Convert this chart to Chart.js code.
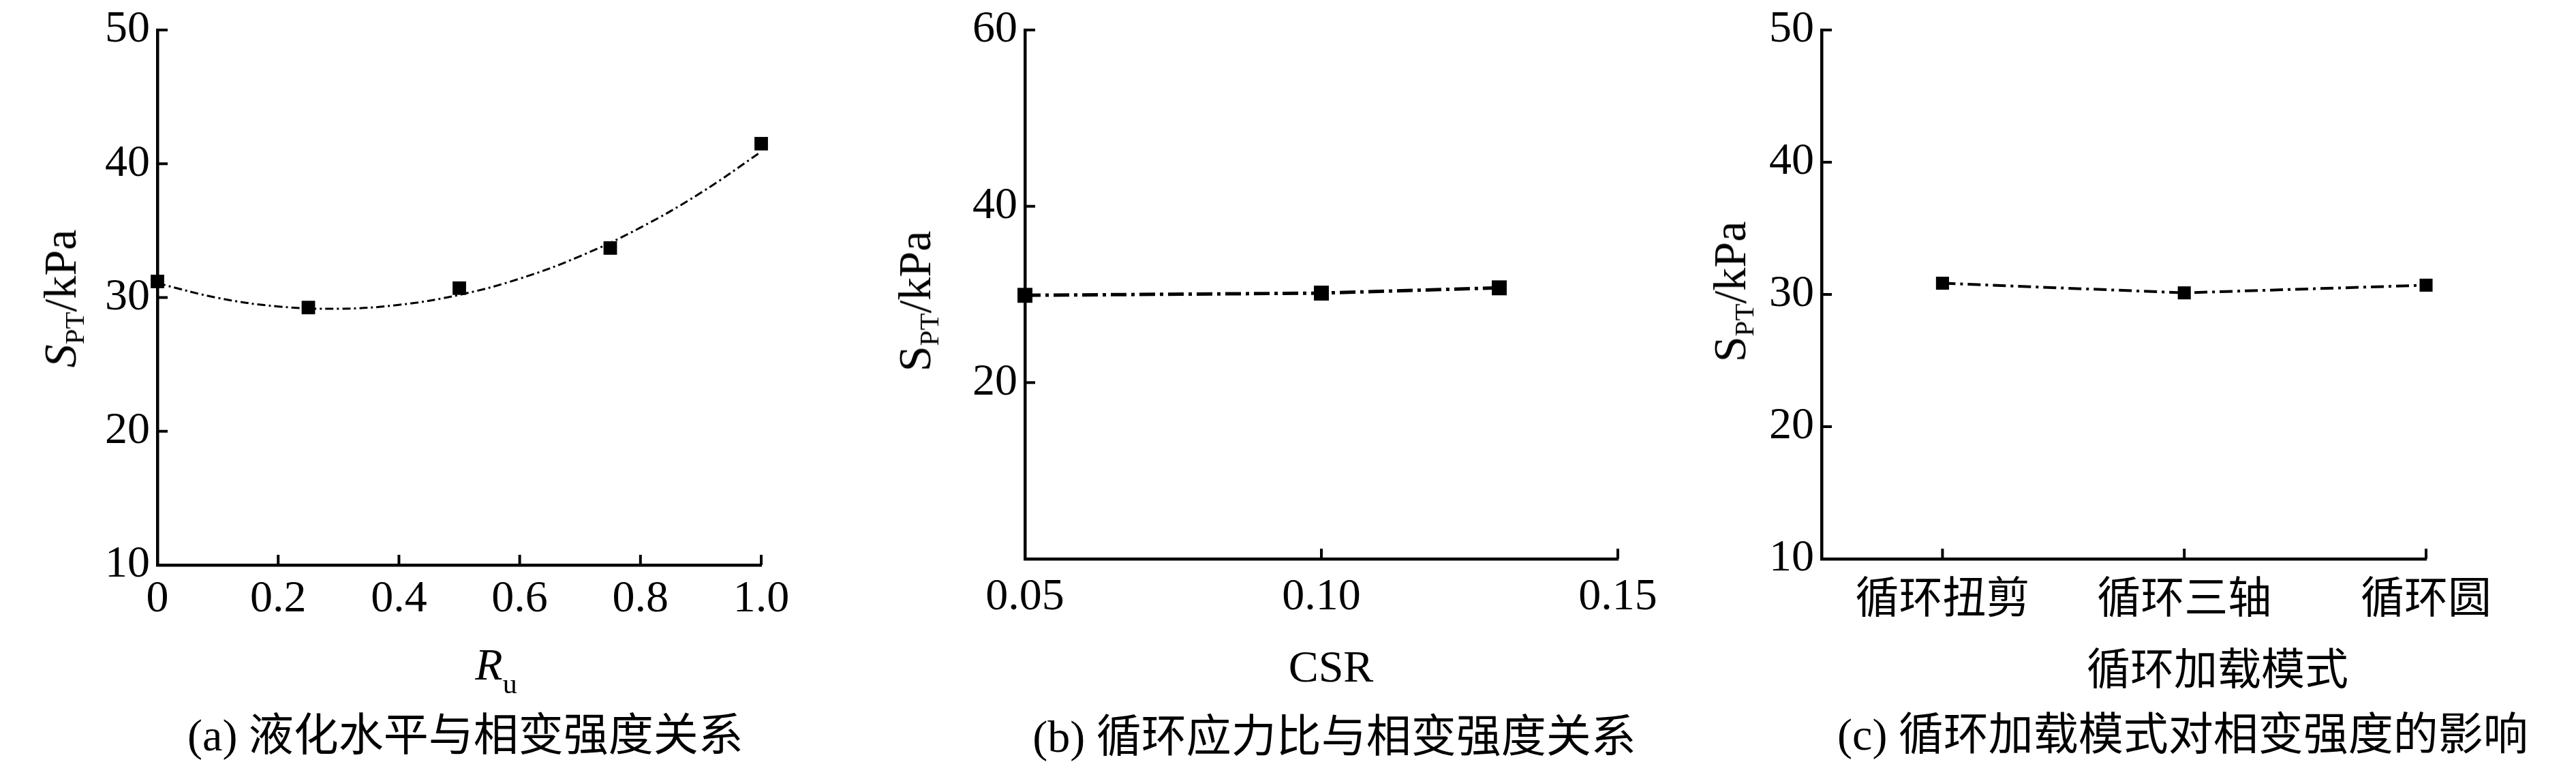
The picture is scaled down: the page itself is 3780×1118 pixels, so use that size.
<!DOCTYPE html>
<html>
<head>
<meta charset="utf-8">
<script src="https://cdn.jsdelivr.net/npm/chart.js@4.4.1/dist/chart.umd.min.js"></script>
<style>
html,body{margin:0;padding:0;background:#fff;}
#wrap{position:relative;width:3780px;height:1118px;overflow:hidden;background:#fff;}
canvas{position:absolute;top:0;}
.t{position:absolute;white-space:nowrap;color:#000;line-height:1;font-family:"Liberation Serif","Noto Sans CJK SC",serif;}
.cap{font-size:66px;transform:translateX(-50%);}
.xt{font-size:66px;transform:translateX(-50%);}
.cjk{font-family:"Noto Sans CJK SC",sans-serif;font-size:64px;}
.yt{font-size:68px;transform:translate(-50%,-50%) rotate(-90deg);}
.yt sub{font-size:41px;vertical-align:-12px;line-height:1;}
.xt sub{font-size:42px;vertical-align:-20px;line-height:1;}
</style>
</head>
<body>
<div id="wrap">
  <canvas id="ca" width="1260" height="1118" style="left:0px"></canvas>
  <canvas id="cb" width="1260" height="1118" style="left:1260px"></canvas>
  <canvas id="cc" width="1260" height="1118" style="left:2520px"></canvas>

  <div class="t yt" style="left:92px;top:438px;"><i>S</i><sub>PT</sub>/kPa</div>
  <div class="t yt" style="left:1346px;top:442px;">S<sub>PT</sub>/kPa</div>
  <div class="t yt" style="left:2542px;top:428px;">S<sub>PT</sub>/kPa</div>

  <div class="t xt" style="left:728px;top:942px;"><i>R</i><sub>u</sub></div>
  <div class="t xt" style="left:1953px;top:945px;">CSR</div>
  <div class="t xt cjk" style="left:3254px;top:944px;">循环加载模式</div>

  <div class="t cap" style="left:683px;top:1046px;">(a) 液化水平与相变强度关系</div>
  <div class="t cap" style="left:1958px;top:1048px;">(b) 循环应力比与相变强度关系</div>
  <div class="t cap" style="left:3203px;top:1045px;">(c) 循环加载模式对相变强度的影响</div>
</div>
<script>
// ---------- data ----------
// (a) liquefaction level Ru vs phase-transformation strength
const ruValues   = [0, 0.25, 0.5, 0.75, 1.0];
const sptA       = [31.2, 29.25, 30.7, 33.7, 41.5];
// fitted trend curve
const fitRu      = [0, 0.1, 0.2, 0.3, 0.4, 0.5, 0.6, 0.7, 0.8, 0.9, 1.0];
const fitSpt     = [31.07, 29.97, 29.33, 29.16, 29.45, 30.2, 31.41, 33.09, 35.23, 37.83, 40.9];
const xTicksA    = [0, 0.2, 0.4, 0.6, 0.8, 1.0];
const xLabelsA   = ['0', '0.2', '0.4', '0.6', '0.8', '1.0'];
const yTicksA    = [10, 20, 30, 40, 50];

// (b) cyclic stress ratio vs strength
const csrValues  = [0.05, 0.10, 0.13];
const sptB       = [29.9, 30.15, 30.75];
const xTicksB    = [0.05, 0.10, 0.15];
const xLabelsB   = ['0.05', '0.10', '0.15'];
const yTicksB    = [20, 40, 60];

// (c) cyclic loading mode vs strength
const modes      = ['循环扭剪', '循环三轴', '循环圆'];
const sptC       = [30.85, 30.12, 30.7];
const yTicksC    = [10, 20, 30, 40, 50];

// ---------- helpers ----------
const BLACK = '#000';
const serif = 'Liberation Serif';

const inwardTicks = {
  id: 'inwardTicks',
  afterDraw(chart, args, opts) {
    const ctx = chart.ctx, a = chart.chartArea;
    const xs = chart.scales.x, ys = chart.scales.y;
    ctx.save();
    ctx.strokeStyle = BLACK;
    ctx.lineWidth = 4;
    ctx.lineCap = 'butt';
    xs.ticks.forEach(t => {
      const p = xs.getPixelForValue(t.value);
      ctx.beginPath(); ctx.moveTo(p, a.bottom); ctx.lineTo(p, a.bottom - 15); ctx.stroke();
    });
    ys.ticks.forEach(t => {
      const p = ys.getPixelForValue(t.value);
      ctx.beginPath(); ctx.moveTo(a.left, p); ctx.lineTo(a.left + 15, p); ctx.stroke();
    });
    ctx.restore();
  }
};

function makeChart(id, cfg) {
  const xScale = {
    type: 'linear',
    min: cfg.xMin, max: cfg.xMax,
    grid: { display: false, drawTicks: false },
    border: { display: true, color: BLACK, width: 4.5 },
    afterBuildTicks: s => { s.ticks = cfg.xTicks.map(v => ({ value: v })); },
    afterFit: s => { s.height = cfg.xHeight; },
    ticks: {
      color: BLACK,
      padding: cfg.xPad,
      maxRotation: 0, autoSkip: false,
      font: cfg.xFont,
      callback: (v, i) => cfg.xLabels[i]
    }
  };
  const yScale = {
    type: 'linear',
    min: cfg.yMin, max: cfg.yMax,
    grid: { display: false, drawTicks: false },
    border: { display: true, color: BLACK, width: 4.5 },
    afterBuildTicks: s => { s.ticks = cfg.yTicks.map(v => ({ value: v })); },
    afterFit: s => { s.width = cfg.yWidth; },
    ticks: {
      color: BLACK,
      padding: 11,
      autoSkip: false,
      font: { family: serif, size: 66, lineHeight: 1 },
      callback: v => String(v)
    }
  };
  return new Chart(document.getElementById(id), {
    type: 'line',
    data: { datasets: cfg.datasets },
    options: {
      responsive: false,
      animation: false,
      devicePixelRatio: 1,
      layout: { padding: { left: 0, top: cfg.top, right: cfg.right, bottom: 0 } },
      plugins: { legend: { display: false }, tooltip: { enabled: false } },
      scales: { x: xScale, y: yScale }
    },
    plugins: [inwardTicks]
  });
}

// (a)
makeChart('ca', {
  xMin: 0, xMax: 1, yMin: 10, yMax: 50,
  xTicks: xTicksA, xLabels: xLabelsA, yTicks: yTicksA,
  xFont: { family: serif, size: 66, lineHeight: 1 },
  xPad: 18, xHeight: 289, yWidth: 231, top: 43, right: 143,
  datasets: [
    {
      data: fitRu.map((x, i) => ({ x: x, y: fitSpt[i] })),
      borderColor: BLACK, borderWidth: 3, borderDash: [12, 5, 3, 5],
      pointRadius: 0, tension: 0.4, fill: false, clip: false
    },
    {
      data: ruValues.map((x, i) => ({ x: x, y: sptA[i] })),
      showLine: false, pointStyle: 'rect', pointRadius: 14,
      pointBackgroundColor: BLACK, pointBorderColor: BLACK, pointBorderWidth: 0,
      clip: false
    }
  ]
});

// (b)
makeChart('cb', {
  xMin: 0.05, xMax: 0.15, yMin: 0, yMax: 60,
  xTicks: xTicksB, xLabels: xLabelsB, yTicks: yTicksB,
  xFont: { family: serif, size: 66, lineHeight: 1 },
  xPad: 24, xHeight: 298, yWidth: 244, top: 34, right: 146,
  datasets: [
    {
      data: csrValues.map((x, i) => ({ x: x, y: sptB[i] })),
      borderColor: BLACK, borderWidth: 5, borderDash: [23, 7, 5, 7],
      tension: 0, fill: false,
      pointStyle: 'rect', pointRadius: 15.5,
      pointBackgroundColor: BLACK, pointBorderColor: BLACK, pointBorderWidth: 0,
      clip: false
    }
  ]
});

// (c)
makeChart('cc', {
  xMin: -0.5, xMax: 2, yMin: 10, yMax: 50,
  xTicks: modes.map((m, i) => i), xLabels: modes, yTicks: yTicksC,
  xFont: { family: 'Noto Sans CJK SC', size: 64, lineHeight: 1 },
  xPad: 23, xHeight: 298, yWidth: 153, top: 34, right: 220,
  datasets: [
    {
      data: sptC.map((y, i) => ({ x: i, y: y })),
      borderColor: BLACK, borderWidth: 4, borderDash: [19, 7, 4, 7],
      tension: 0, fill: false,
      pointStyle: 'rect', pointRadius: 13.5,
      pointBackgroundColor: BLACK, pointBorderColor: BLACK, pointBorderWidth: 0,
      clip: false
    }
  ]
});
</script>
</body>
</html>
